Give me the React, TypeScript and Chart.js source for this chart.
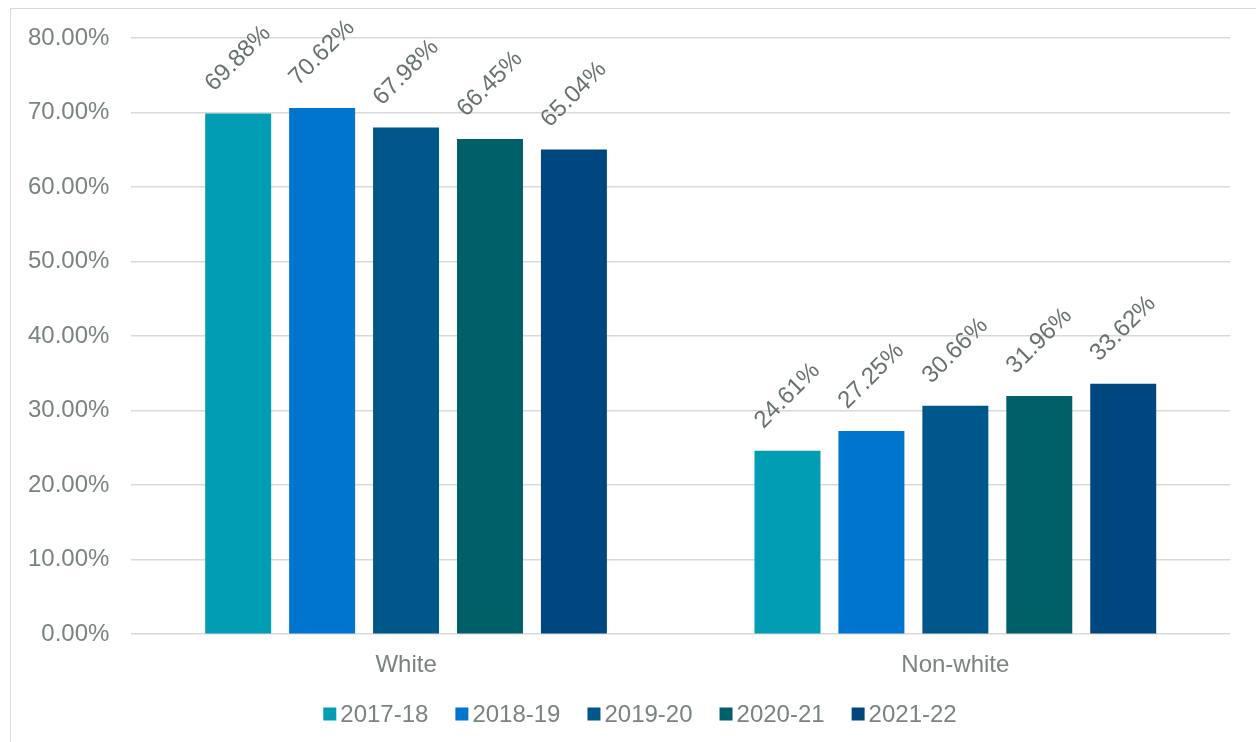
import React, { useEffect, useRef } from "react";
import { Chart, registerables } from "chart.js";

Chart.register(...registerables);

const categories = ["White", "Non-white"];
const seriesNames = ["2017-18", "2018-19", "2019-20", "2020-21", "2021-22"];
const values2017 = [69.88, 24.61];
const values2018 = [70.62, 27.25];
const values2019 = [67.98, 30.66];
const values2020 = [66.45, 31.96];
const values2021 = [65.04, 33.62];
const seriesValues = [values2017, values2018, values2019, values2020, values2021];
const colors = ["#009DB5", "#0075CF", "#00578A", "#006069", "#00477F"];
const yMin = 0;
const yMax = 80;
const yStep = 10;

const FONT = '"Liberation Sans", Arial, sans-serif';
const TEXT = "#7a8282";
const LABEL_TEXT = "#687171";
const GRID = "#d9d9d9";

const dataLabelPlugin = {
  id: "dataLabels",
  afterDatasetsDraw(chart: any) {
    const ctx = chart.ctx;
    ctx.save();
    ctx.font = `24px ${FONT}`;
    ctx.fillStyle = LABEL_TEXT;
    ctx.textAlign = "center";
    ctx.textBaseline = "middle";
    chart.data.datasets.forEach((ds: any, i: number) => {
      const meta = chart.getDatasetMeta(i);
      meta.data.forEach((bar: any, j: number) => {
        const v = ds.data[j];
        ctx.save();
        ctx.translate(bar.x, bar.y - 55);
        ctx.rotate(-Math.PI / 4);
        ctx.fillText(v.toFixed(2) + "%", 0, 0);
        ctx.restore();
      });
    });
    ctx.restore();
  },
};

const legendPlugin = {
  id: "customLegend",
  afterDraw(chart: any) {
    const ctx = chart.ctx;
    ctx.save();
    ctx.font = `24px ${FONT}`;
    const box = 13;
    const gapBoxText = 4;
    const gapItems = 27;
    const widths = chart.data.datasets.map((ds: any) => ctx.measureText(ds.label).width);
    const total =
      widths.reduce((a: number, w: number) => a + box + gapBoxText + w, 0) +
      gapItems * (widths.length - 1);
    let x = chart.width / 2 + 12 - total / 2;
    const y = 714;
    ctx.textBaseline = "middle";
    ctx.textAlign = "left";
    chart.data.datasets.forEach((ds: any, i: number) => {
      ctx.fillStyle = ds.backgroundColor;
      ctx.fillRect(x, y - box / 2, box, box);
      x += box + gapBoxText;
      ctx.fillStyle = TEXT;
      ctx.fillText(ds.label, x, y + 1);
      x += widths[i] + gapItems;
    });
    ctx.restore();
  },
};

export default function App() {
  const canvasRef = useRef<HTMLCanvasElement | null>(null);

  useEffect(() => {
    if (!canvasRef.current) return;
    const chart = new Chart(canvasRef.current, {
      type: "bar",
      data: {
        labels: categories,
        datasets: seriesNames.map((name, i) => ({
          label: name,
          data: seriesValues[i],
          backgroundColor: colors[i],
          borderWidth: 0,
          categoryPercentage: 0.764,
          barPercentage: 0.786,
        })),
      },
      options: {
        animation: false,
        responsive: false,
        maintainAspectRatio: false,
        layout: { padding: { left: 6, right: 26, top: 38, bottom: 45 } },
        plugins: {
          legend: { display: false },
          tooltip: { enabled: false },
        },
        scales: {
          x: {
            grid: { display: false, drawTicks: false },
            border: { display: false },
            ticks: {
              color: TEXT,
              font: { family: FONT, size: 24 },
              padding: 17,
            },
          },
          y: {
            min: yMin,
            max: yMax,
            grid: { color: GRID, lineWidth: 1.5, drawTicks: false },
            border: { display: false },
            ticks: {
              stepSize: yStep,
              color: TEXT,
              font: { family: FONT, size: 24 },
              padding: 22,
              callback: (v: any) => Number(v).toFixed(2) + "%",
            },
          },
        },
      },
      plugins: [dataLabelPlugin, legendPlugin],
    });
    return () => chart.destroy();
  }, []);

  return (
    <div style={{ position: "fixed", left: 0, top: 0, width: 1256, height: 742, background: "#fff", overflow: "hidden" }}>
      <div
        style={{
          position: "absolute",
          left: 10,
          top: 8,
          width: 1246,
          height: 734,
          borderTop: `1.5px solid ${GRID}`,
          borderLeft: `1.5px solid ${GRID}`,
          boxSizing: "border-box",
        }}
      />
      <canvas
        ref={canvasRef}
        width={1256}
        height={742}
        style={{ position: "absolute", left: 0, top: 0, width: 1256, height: 742 }}
      />
    </div>
  );
}
